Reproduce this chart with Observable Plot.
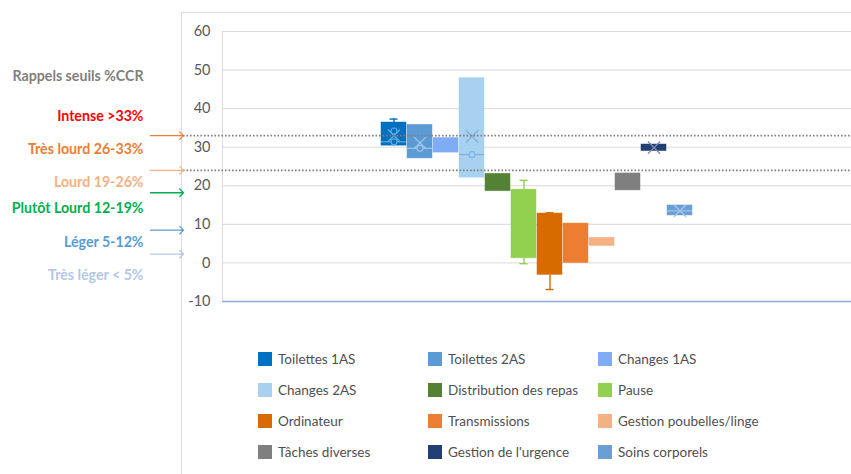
<!DOCTYPE html>
<html><head><meta charset="utf-8">
<script src="https://cdn.jsdelivr.net/npm/d3@7"></script>
<script src="https://cdn.jsdelivr.net/npm/@observablehq/plot@0.6"></script>
<style>
body{margin:0;background:#fff;font-family:Lato,"Open Sans",sans-serif;}
#wrap{position:relative;width:851px;height:474px;overflow:hidden;background:#fff;}
#border{position:absolute;left:181px;top:12px;width:800px;height:600px;border:1px solid #DCDCDC;box-sizing:border-box;}
#chart{position:absolute;left:0;top:0;}
#legend{position:absolute;left:258px;top:343px;display:grid;grid-template-columns:170px 170px 220px;grid-auto-rows:31px;font-size:13.5px;color:#505050;}
.item{display:flex;align-items:center;white-space:nowrap;}
.sw{width:14px;height:14px;margin-right:6px;flex:none;}
</style></head><body>
<div id="wrap"><div id="border"></div><div id="chart"></div><div id="legend"></div></div>
<script>
// ---- data ----
const series = ["Toilettes 1AS","Toilettes 2AS","Changes 1AS","Changes 2AS","Distribution des repas","Pause",
  "Ordinateur","Transmissions","Gestion poubelles/linge","Tâches diverses","Gestion de l'urgence","Soins corporels"];
const seriesColors = ["#0070C0","#5B9BD5","#7EACF5","#A8D1F0","#548235","#92D050",
  "#D86B00","#ED7D31","#F4B183","#7F7F7F","#223F73","#6A9FD5"];
const q1 = [30.4, 27.1, 28.6, 22.1, 18.6, 1.2, -3.1, 0.0, 4.4, 18.8, 29.0, 12.3];
const q3 = [36.4, 35.8, 32.4, 47.9, 23.1, 19.0, 12.8, 10.2, 6.5, 23.2, 30.7, 14.9];
const whiskerLow = [null, null, null, null, null, -0.2, -6.9, null, null, null, null, null];
const whiskerHigh = [37.3, null, null, null, null, 21.4, 13.0, null, null, null, null, null];
const medians = [31.4, 29.7, null, 28.1, null, null, null, null, null, null, null, 13.5];
const means = [33.0, 31.1, null, 32.8, null, null, null, null, null, null, 29.9, 13.5];
const innerPoints = [
  {series: "Toilettes 1AS", value: 34.2},
  {series: "Toilettes 1AS", value: 31.4},
  {series: "Toilettes 2AS", value: 29.7},
  {series: "Changes 2AS", value: 28.1}
];
const yTicks = [-10, 0, 10, 20, 30, 40, 50, 60];
const thresholdLines = [33, 24];
const arrowLevels = [33, 24, 18.2, 8.5, 2.3];
const arrowColors = ["#ED7D31", "#F4B183", "#00B050", "#5B9BD5", "#B4C7E7"];
const guideTitle = "Rappels seuils %CCR";
const guideTitleLevel = 48.3;
const guideLabels = ["Intense >33%", "Très lourd 26-33%", "Lourd 19-26%", "Plutôt Lourd 12-19%", "Léger 5-12%", "Très léger < 5%"];
const guideLabelLevels = [37.9, 29.4, 20.8, 14.1, 5.3, -3.3];
const guideColors = ["#FF0000", "#ED7D31", "#F4B183", "#00B050", "#5B9BD5", "#B4C7E7"];

// ---- derived tables ----
function markerColor(c) {
  const h = d3.hsl(c);
  return h.l > 0.68 ? d3.interpolateRgb(c, "#2E75B6")(0.35) : d3.interpolateRgb(c, "#ffffff")(0.4);
}
const rows = series.map((s, i) => ({
  series: s, color: seriesColors[i], marker: markerColor(seriesColors[i]),
  q1: q1[i], q3: q3[i], lo: whiskerLow[i], hi: whiskerHigh[i], median: medians[i], mean: means[i]
}));
const colorOf = Object.fromEntries(rows.map(d => [d.series, d]));
const points = innerPoints.map(p => ({...p, color: colorOf[p.series].color, marker: colorOf[p.series].marker}));
const arrows = arrowLevels.map((v, i) => ({v, color: arrowColors[i]}));
const guides = guideLabels.map((t, i) => ({t, y: guideLabelLevels[i], color: guideColors[i]}));

const font = "Lato, 'Open Sans', sans-serif";
const chart = Plot.plot({
  width: 851, height: 320,
  marginLeft: 222, marginRight: 0, marginTop: 31, marginBottom: 19,
  style: {fontFamily: font, background: "transparent", overflow: "visible"},
  x: {type: "band", domain: series, paddingInner: 0.055, paddingOuter: 5.92, align: 0.5, axis: null},
  y: {domain: [-10, 60], axis: null},
  color: {type: "identity"},
  marks: [
    Plot.ruleY(yTicks.filter(t => t > -10), {stroke: "#D9D9D9", strokeWidth: 1}),
    Plot.rect([0], {y1: -10, y2: 60, fill: "#D9D9D9", insetRight: 628}),
    Plot.ruleY(yTicks.filter(t => t === -10), {stroke: "#8FAADC", strokeWidth: 1.6}),
    Plot.axisY({ticks: yTicks, tickSize: 0, tickPadding: 12, fontSize: 14.5, fill: "#595959", label: null, tickFormat: d => d}),
    Plot.ruleX(rows.filter(d => d.hi != null), {x: "series", y1: "q3", y2: "hi", stroke: "color", strokeWidth: 1.4}),
    Plot.ruleX(rows.filter(d => d.lo != null), {x: "series", y1: "q1", y2: "lo", stroke: "color", strokeWidth: 1.4}),
    Plot.tickY(rows.filter(d => d.hi != null), {x: "series", y: "hi", stroke: "color", strokeWidth: 1.4, insetLeft: 8.5, insetRight: 8.5}),
    Plot.tickY(rows.filter(d => d.lo != null), {x: "series", y: "lo", stroke: "color", strokeWidth: 1.4, insetLeft: 8.5, insetRight: 8.5}),
    Plot.barY(rows, {x: "series", y1: "q1", y2: "q3", fill: "color", stroke: "color", strokeOpacity: 0.6, strokeWidth: 0.8}),
    Plot.tickY(rows.filter(d => d.median != null), {x: "series", y: "median", stroke: "marker", strokeWidth: 1.2}),
    Plot.dot(points, {x: "series", y: "value", r: 3, fill: "color", stroke: "marker", strokeWidth: 1.2}),
    Plot.dot(rows.filter(d => d.mean != null), {x: "series", y: "mean", symbol: "times", r: 5.6, stroke: "marker", strokeWidth: 1.3}),
    Plot.ruleY(thresholdLines, {stroke: "#7F7F7F", strokeWidth: 1.7, strokeDasharray: "1.6,1.9", insetLeft: -39}),
    Plot.vector(arrows, {y: "v", frameAnchor: "left", dx: -39, length: 33, rotate: 90, anchor: "end", stroke: "color", strokeWidth: 1.3, r: 2}),
    Plot.text(guides, {y: "y", text: "t", frameAnchor: "left", dx: -79, textAnchor: "end", fill: "color", fontWeight: "bold", fontSize: 14.2}),
    Plot.text([guideTitle], {y: () => guideTitleLevel, text: d => d, frameAnchor: "left", dx: -210, textAnchor: "start", fill: "#7F7F7F", fontWeight: "bold", fontSize: 14.2})
  ]
});
document.getElementById("chart").appendChild(chart);

// ---- legend ----
const legend = document.getElementById("legend");
series.forEach((s, i) => {
  const it = document.createElement("div");
  it.className = "item";
  const sw = document.createElement("span");
  sw.className = "sw";
  sw.style.background = seriesColors[i];
  it.appendChild(sw);
  it.appendChild(document.createTextNode(s));
  legend.appendChild(it);
});
</script>
</body></html>
